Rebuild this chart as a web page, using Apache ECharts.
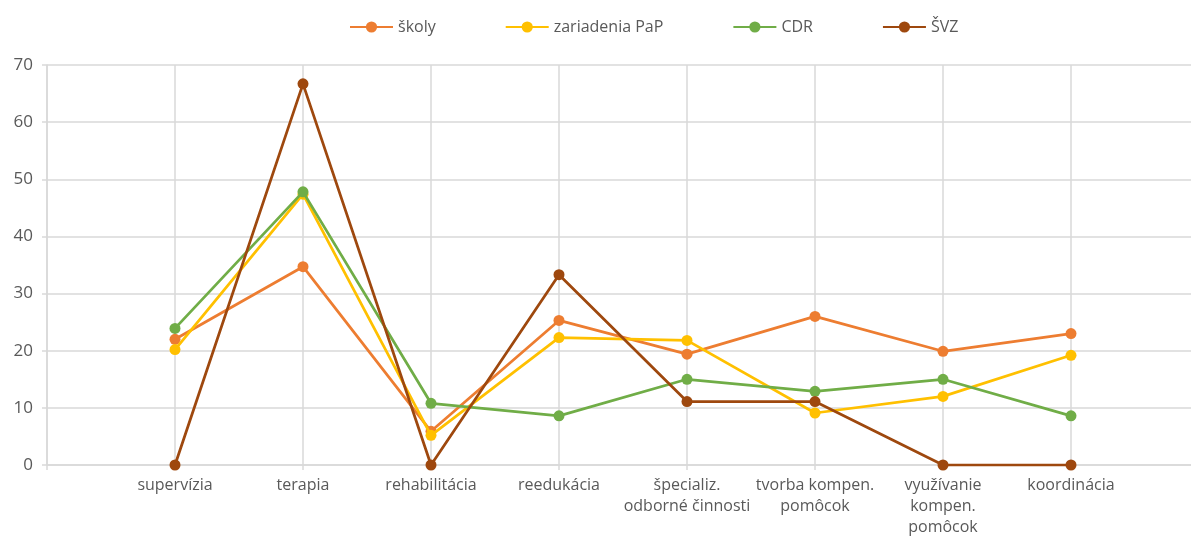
<!DOCTYPE html>
<html>
<head>
<meta charset="utf-8">
<script src="https://cdn.jsdelivr.net/npm/echarts@6/dist/echarts.min.js"></script>
<style>
  html, body { margin: 0; padding: 0; background: #fff; overflow: hidden; }
  #chart { width: 1210px; height: 538px; }
</style>
</head>
<body>
<div id="chart"></div>
<script>
// Activity categories (axis labels, wrapped)
const categories = [
  'supervízia',
  'terapia',
  'rehabilitácia',
  'reedukácia',
  'špecializ.\nodborné činnosti',
  'tvorba kompen.\npomôcok',
  'využívanie\nkompen.\npomôcok',
  'koordinácia'
];

// Share of each institution type (%)
const skoly        = [22.0, 34.7, 5.9, 25.3, 19.4, 26.0, 19.9, 23.0];
const zariadenia   = [20.2, 47.4, 5.2, 22.3, 21.8, 9.1, 12.0, 19.2];
const cdr          = [23.9, 47.8, 10.8, 8.6, 15.0, 12.9, 15.0, 8.6];
const svz          = [0, 66.7, 0, 33.3, 11.1, 11.1, 0, 0];

const seriesNames  = ['školy', 'zariadenia PaP', 'CDR', 'ŠVZ'];
const seriesColors = ['#ED7D31', '#FFC000', '#70AD47', '#9E480E'];

// Y axis ticks
const yMin = 0, yMax = 70, yStep = 10;

// Pad the category axis with an empty slot at each end so points sit on gridlines
const axisCats = [''].concat(categories, ['']);
const pad = arr => [null].concat(arr, [null]);

const font = '"Open Sans", Lato, sans-serif';
const textColor = '#595959';
const gridColor = '#d9d9d9';

const chart = echarts.init(document.getElementById('chart'), null, { renderer: 'canvas' });

chart.setOption({
  animation: false,
  backgroundColor: '#ffffff',
  textStyle: { fontFamily: font },
  legend: {
    data: seriesNames,
    top: 14,
    left: 344,
    itemWidth: 43,
    itemHeight: 14,
    itemGap: 69,
    textStyle: { color: textColor, fontSize: 16, fontFamily: font }
  },
  grid: {
    left: 47,
    top: 65,
    width: 1152,
    height: 401,
    containLabel: false
  },
  xAxis: {
    type: 'category',
    data: axisCats,
    boundaryGap: false,
    axisLine: { show: true, lineStyle: { color: gridColor, width: 1.5 } },
    axisTick: { show: true, length: 5, lineStyle: { color: gridColor, width: 1.5 } },
    splitLine: { show: true, lineStyle: { color: gridColor, width: 1.5 } },
    axisLabel: {
      color: textColor,
      fontSize: 16,
      fontFamily: font,
      margin: 10,
      lineHeight: 21,
      interval: 0
    }
  },
  yAxis: {
    type: 'value',
    min: yMin,
    max: yMax,
    interval: yStep,
    axisLine: { show: true, lineStyle: { color: gridColor, width: 1.5 } },
    axisTick: { show: true, length: 5, lineStyle: { color: gridColor, width: 1.5 } },
    splitLine: { show: true, lineStyle: { color: gridColor, width: 1.5 } },
    axisLabel: { color: textColor, fontSize: 17, fontFamily: font, margin: 14 }
  },
  series: [skoly, zariadenia, cdr, svz].map((vals, i) => ({
    name: seriesNames[i],
    type: 'line',
    data: pad(vals),
    color: seriesColors[i],
    symbol: 'circle',
    symbolSize: 11,
    showSymbol: true,
    connectNulls: false,
    lineStyle: { width: 2.75, color: seriesColors[i] },
    itemStyle: { color: seriesColors[i] },
    z: 2 + i
  }))
});
</script>
</body>
</html>
